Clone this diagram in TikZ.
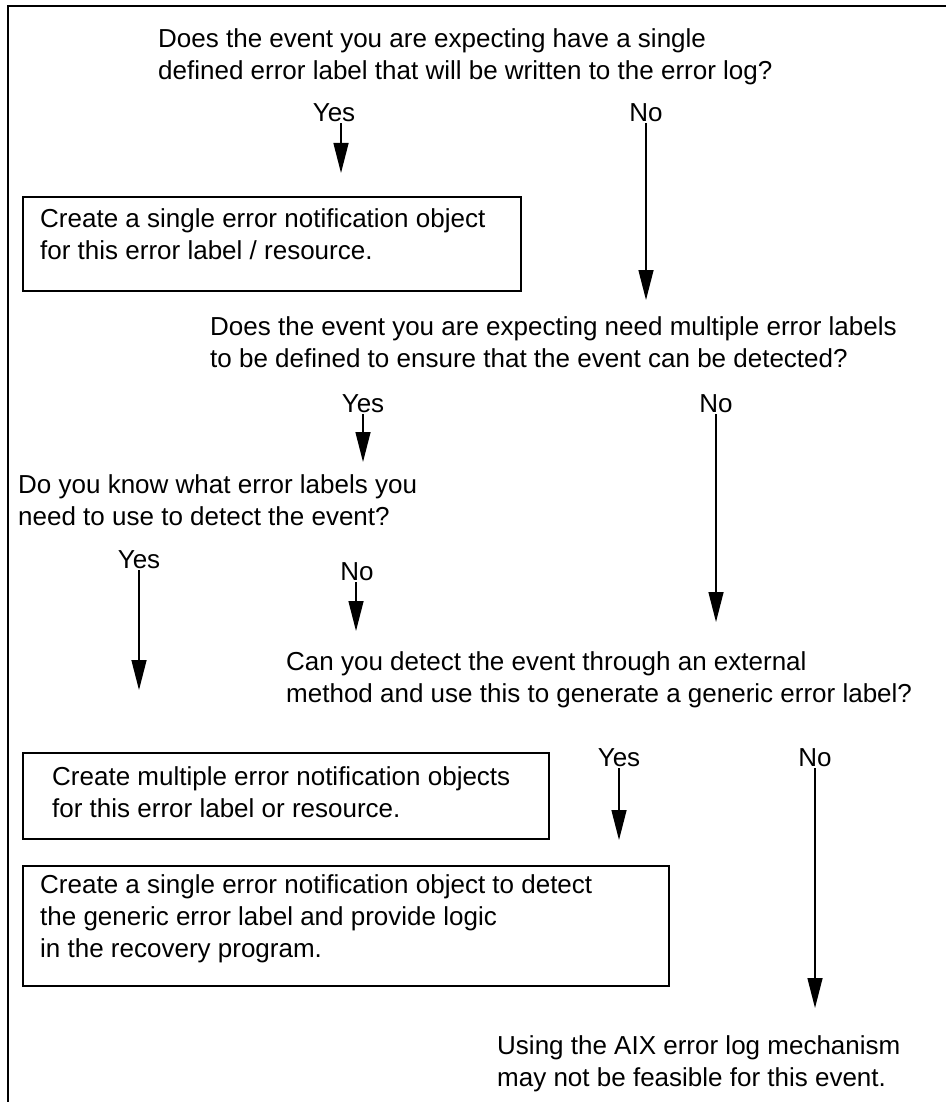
\documentclass[tikz,border=0pt]{standalone}
\usepackage{fontspec}
\setmainfont{Liberation Sans}
\usetikzlibrary{arrows.meta}
\begin{document}
\begin{tikzpicture}[x=1pt,y=-1pt,
  txt/.style={anchor=west,align=left,inner sep=0pt,font=\fontsize{26}{32}\selectfont},
  lbl/.style={inner sep=1pt,font=\fontsize{26}{28}\selectfont},
  boxframe/.style={draw,line width=1.6pt,anchor=north west,inner sep=0pt},
  flow/.style={line width=1.4pt,-{Triangle[width=15pt,length=30pt]}}]
\useasboundingbox (0,0) rectangle (946,1102);
% page frame: top and left rules only
\draw[line width=1.6pt] (8,1102) -- (8,6) -- (946,6);

% questions
\node[txt] (q1) at (158,57) {Does the event you are expecting have a single\\defined error label that will be written to the error log?};
\node[txt] (q2) at (210,342) {Does the event you are expecting need multiple error labels\\to be defined to ensure that the event can be detected?};
\node[txt] (q3) at (18,500) {Do you know what error labels you\\need to use to detect the event?};
\node[txt] (q4) at (286,680) {Can you detect the event through an external\\method and use this to generate a generic error label?};

% outcome boxes
\node[boxframe,minimum width=498pt,minimum height=94pt] (b1) at (22,196) {};
\node[txt] (t1) at (40,234) {Create a single error notification object\\for this error label / resource.};
\node[boxframe,minimum width=526pt,minimum height=86pt] (b2) at (22,752) {};
\node[txt] (t2) at (52,792) {Create multiple error notification objects\\for this error label or resource.};
\node[boxframe,minimum width=646pt,minimum height=120pt] (b3) at (22,865) {};
\node[txt] (t3) at (40,919) {Create a single error notification object to detect\\the generic error label and provide logic\\in the recovery program.};
\node[txt] (t4) at (497,1064) {Using the AIX error log mechanism\\may not be feasible for this event.};

% answer labels
\node[lbl] (y1) at (334,113) {Yes};
\node[lbl] (n1) at (646,113) {No};
\node[lbl] (y2) at (363,404) {Yes};
\node[lbl] (n2) at (716,404) {No};
\node[lbl] (y3) at (139,560) {Yes};
\node[lbl] (n3) at (357,572) {No};
\node[lbl] (y4) at (619,758) {Yes};
\node[lbl] (n4) at (815,758) {No};

% arrow ends
\coordinate (e1) at (341,173);
\coordinate (e2) at (646,300);
\coordinate (e3) at (363,462);
\coordinate (e4) at (716,622);
\coordinate (e5) at (139,690);
\coordinate (e6) at (356,631);
\coordinate (e7) at (619,840);
\coordinate (e8) at (815,1008);

\draw[flow] (y1.south -| e1) -- (e1);
\draw[flow] (n1.south -| e2) -- (e2);
\draw[flow] (y2.south -| e3) -- (e3);
\draw[flow] (n2.south -| e4) -- (e4);
\draw[flow] (y3.south -| e5) -- (e5);
\draw[flow] (n3.south -| e6) -- (e6);
\draw[flow] (y4.south -| e7) -- (e7);
\draw[flow] (n4.south -| e8) -- (e8);
\end{tikzpicture}
\end{document}
